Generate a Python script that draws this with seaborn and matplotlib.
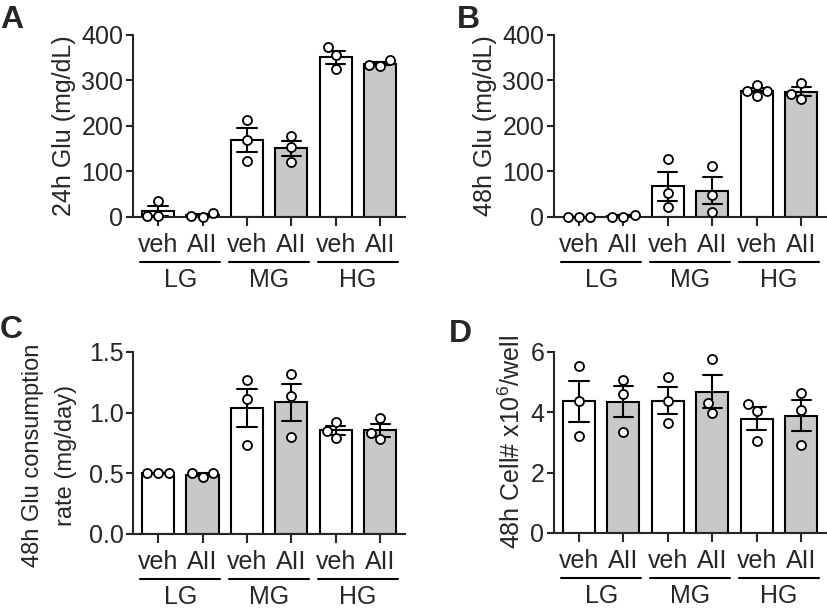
import numpy as np
import pandas as pd
import matplotlib.pyplot as plt
import seaborn as sns
from matplotlib import transforms
import warnings
warnings.filterwarnings("ignore")

# ---------------------------------------------------------------
# data (n=3 replicates per condition)
# ---------------------------------------------------------------
groups = ["LG", "MG", "HG"]
treatments = ["veh", "AII"]
conds = [f"{g} {t}" for g in groups for t in treatments]

# A: 24h glucose (mg/dL)
a_lg_veh = [2, 35, 2]
a_lg_aii = [0, 8, 3]
a_mg_veh = [214, 169, 123]
a_mg_aii = [178, 154, 120]
a_hg_veh = [373, 355, 325]
a_hg_aii = [332, 344, 335]

# B: 48h glucose (mg/dL)
b_lg_veh = [0, 0, 0]
b_lg_aii = [0, 5, 0]
b_mg_veh = [127, 53, 21]
b_mg_aii = [112, 49, 12]
b_hg_veh = [290, 266, 277, 277]
b_hg_aii = [295, 271, 260]

# C: 48h glucose consumption rate (mg/day)
c_lg_veh = [0.50, 0.50, 0.50]
c_lg_aii = [0.47, 0.50, 0.50]
c_mg_veh = [1.27, 1.11, 0.735]
c_mg_aii = [1.32, 1.14, 0.80]
c_hg_veh = [0.92, 0.85, 0.79]
c_hg_aii = [0.955, 0.83, 0.78]

# D: 48h cell number (x10^6/well)
d_lg_veh = [5.55, 4.36, 3.20]
d_lg_aii = [5.07, 4.61, 3.35]
d_mg_veh = [5.16, 4.38, 3.63]
d_mg_aii = [5.77, 4.30, 3.97]
d_hg_veh = [4.28, 4.05, 3.05]
d_hg_aii = [4.65, 4.08, 2.92]

bar_colors = {c: ("white" if c.endswith("veh") else "#c8c8c8") for c in conds}

# ---------------------------------------------------------------
# style
# ---------------------------------------------------------------
sns.set_style("ticks")
plt.rcParams['font.family'] = ['Liberation Sans', 'DejaVu Sans']
plt.rcParams['mathtext.fontset'] = 'custom'
plt.rcParams['mathtext.rm'] = 'Liberation Sans'
plt.rcParams['mathtext.it'] = 'Liberation Sans:italic'
plt.rcParams['axes.linewidth'] = 1.5


def make_frame(values):
    rows = []
    for cond, vals in zip(conds, values):
        for v in vals:
            rows.append({"cond": cond, "value": v})
    return pd.DataFrame(rows)


def draw_panel(ax, values, ylabel, ymax, yticks, fmt):
    df = make_frame(values)
    sns.barplot(data=df, x="cond", y="value", hue="cond", order=conds,
                hue_order=conds, palette=bar_colors, legend=False,
                width=0.72, errorbar="se", capsize=0.43,
                edgecolor="black", linewidth=1.5,
                err_kws={"color": "black", "linewidth": 1.5}, ax=ax)
    sns.swarmplot(data=df, x="cond", y="value", order=conds,
                  color="white", edgecolor="black", linewidth=1.3,
                  size=6.5, ax=ax, zorder=5)
    for coll in ax.collections:
        coll.set_clip_on(False)

    ax.set_xlim(-0.56, 5.56)
    ax.set_ylim(0, ymax)
    ax.set_yticks(yticks)
    ax.set_yticklabels([fmt.format(t) for t in yticks], fontsize=18)
    ax.set_xticks(range(len(conds)))
    ax.set_xticklabels(treatments * len(groups), fontsize=18)
    ax.tick_params(axis="x", length=6.5, width=1.5, pad=5)
    ax.tick_params(axis="y", length=5, width=1.5, pad=2)
    ax.set_xlabel("")
    ax.set_ylabel(ylabel, fontsize=18, labelpad=4)
    sns.despine(ax=ax)

    # group brackets under the tick labels
    trans = transforms.blended_transform_factory(ax.transData, ax.transAxes)
    for i, g in enumerate(groups):
        c = 2 * i + 0.5
        ax.plot([c - 0.9, c + 0.9], [-0.247, -0.247], transform=trans,
                color="black", lw=1.5, clip_on=False)
        ax.text(c, -0.385, g, transform=trans, ha="center", va="baseline",
                fontsize=18)


fig = plt.figure(figsize=(8.27, 6.09), dpi=100)
ax_a = fig.add_axes([0.161, 0.6437, 0.329, 0.2989])
ax_b = fig.add_axes([0.670, 0.6437, 0.329, 0.2989])
ax_c = fig.add_axes([0.161, 0.1232, 0.329, 0.2989])
ax_d = fig.add_axes([0.670, 0.1248, 0.329, 0.2973])

draw_panel(ax_a, [a_lg_veh, a_lg_aii, a_mg_veh, a_mg_aii, a_hg_veh, a_hg_aii],
           "24h Glu (mg/dL)", 400, [0, 100, 200, 300, 400], "{:d}")
draw_panel(ax_b, [b_lg_veh, b_lg_aii, b_mg_veh, b_mg_aii, b_hg_veh, b_hg_aii],
           "48h Glu (mg/dL)", 400, [0, 100, 200, 300, 400], "{:d}")
draw_panel(ax_c, [c_lg_veh, c_lg_aii, c_mg_veh, c_mg_aii, c_hg_veh, c_hg_aii],
           "48h Glu consumption\nrate (mg/day)", 1.5, [0.0, 0.5, 1.0, 1.5], "{:.1f}")
draw_panel(ax_d, [d_lg_veh, d_lg_aii, d_mg_veh, d_mg_aii, d_hg_veh, d_hg_aii],
           r"48h Cell# x10$^{\mathrm{6}}$/well", 6, [0, 2, 4, 6], "{:d}")

# two-line label of C sits a bit low, as in the original
ax_c.yaxis.label.set_fontsize(17)
ax_c.yaxis.label.set_linespacing(1.65)
ax_c.yaxis.set_label_coords(-0.205, 0.43)

# panel letters
fig.text(0.0, 1 - 28 / 609, "A", fontsize=23, fontweight="bold", va="baseline")
fig.text(457 / 827, 1 - 28 / 609, "B", fontsize=23, fontweight="bold", va="baseline")
fig.text(0.0, 1 - 338 / 609, "C", fontsize=23, fontweight="bold", va="baseline")
fig.text(449 / 827, 1 - 342 / 609, "D", fontsize=23, fontweight="bold", va="baseline")

fig.savefig("out.png", dpi=100)
